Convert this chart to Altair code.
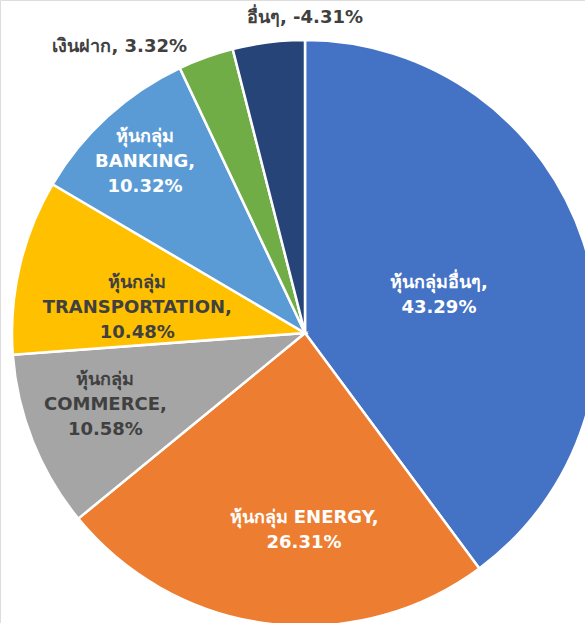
import altair as alt
import pandas as pd

labels = ["หุ้นกลุ่มอื่นๆ", "หุ้นกลุ่ม ENERGY", "หุ้นกลุ่ม\nCOMMERCE", "หุ้นกลุ่ม\nTRANSPORTATION",
          "หุ้นกลุ่ม\nBANKING", "เงินฝาก", "อื่นๆ"]
values = [43.29, 26.31, 10.58, 10.48, 10.32, 3.32, -4.31]
colors = ["#4472C4", "#ED7D31", "#A5A5A5", "#FFC000", "#5B9BD5", "#70AD47", "#264478"]
text_colors = ["#FFFFFF", "#FFFFFF", "#404040", "#404040", "#FFFFFF", "#404040", "#404040"]
# label layout: distance from centre (px) and angular nudge from slice middle (degrees)
label_radius = [143, 185, 205, 175, 253, 341, 315]
label_nudge = [-2.25, -6.8, 8.56, 3.46, 3.18, -13.12, 7.14]
line_break = ["\n", "\n", "\n", "\n", "\n", " ", " "]

rows = []
for i, (lab, v) in enumerate(zip(labels, values)):
    rows.append({
        "order": i,
        "name": lab.replace("\n", " "),
        "size": abs(v),
        "text": f"{lab},{line_break[i]}{v:.2f}%",
        "lr": label_radius[i],
        "nudge": label_nudge[i],
        "tc": text_colors[i],
    })
df = pd.DataFrame(rows)

pie = alt.Chart(df).mark_arc(outerRadius=293, stroke="white", strokeWidth=2.5).encode(
    theta=alt.Theta("size:Q", stack=True),
    order=alt.Order("order:Q"),
    x=alt.value(305),
    y=alt.value(333),
    color=alt.Color("name:N", scale=alt.Scale(domain=[l.replace("\n", " ") for l in labels], range=colors), legend=None),
)

txt = alt.Chart(df).transform_joinaggregate(
    total="sum(size)"
).transform_window(
    cum="sum(size)", sort=[alt.SortField("order")], frame=[None, 0]
).transform_calculate(
    mid="(datum.cum - datum.size / 2) / datum.total * 2 * PI + datum.nudge * PI / 180"
).mark_text(font="DejaVu Sans", fontSize=18, fontWeight="bold", lineBreak="\n",
            lineHeight=25, align="center", baseline="middle").encode(
    theta=alt.Theta("mid:Q", scale=None),
    radius=alt.Radius("lr:Q", scale=None),
    x=alt.value(305),
    y=alt.value(333),
    text="text:N",
    color=alt.Color("tc:N", scale=None),
)

chart = (pie + txt).properties(
    width=585, height=623, padding=0, autosize=alt.AutoSizeParams(type="none")
).configure_view(stroke=None).configure(background="white")

chart.save("out.html", embed_options={"renderer": "svg", "actions": False})
